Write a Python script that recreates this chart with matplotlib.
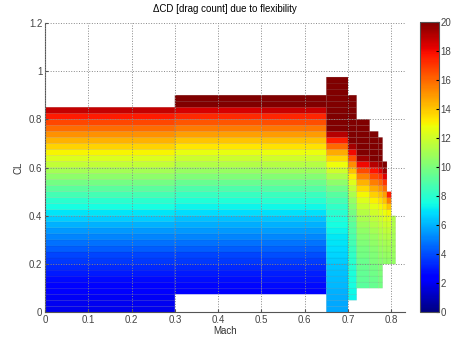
import numpy as np
import matplotlib
matplotlib.use('Agg')
import matplotlib.pyplot as plt

plt.rcParams['font.family'] = ['Liberation Sans', 'DejaVu Sans']

# Mach column edges and CL row step of the map
mach_edges = [0, 0.3, 0.5, 0.65, 0.7, 0.72, 0.75, 0.77, 0.78, 0.79, 0.80, 0.81]
cl_step = 0.025
n_rows = 39

# lowest CL of every Mach column
col_cl_min = [0, 0.075, 0.075, 0, 0.05, 0.1, 0.1, 0.1, 0.2, 0.2, 0.2]

# delta CD [drag count] per column, bottom row first
dcd_cols = [
    # 0 - 0.3
    [1.9, 2.0, 2.1, 2.3, 2.5, 2.7, 3.0, 3.3, 3.6, 3.9, 4.3, 4.7, 5.1, 5.5, 6.0, 6.5, 7.0,
     7.5, 8.0, 8.6, 9.2, 9.8, 10.4, 11.0, 11.7, 12.3, 13.0, 13.7, 14.4, 15.1, 15.9, 16.7,
     17.6, 18.8],
    # 0.3 - 0.5
    [2.4, 2.6, 2.8, 3.0, 3.3, 3.6, 3.9, 4.3, 4.7, 5.1, 5.5, 5.9, 6.3, 6.8, 7.3, 7.8, 8.3,
     8.9, 9.5, 10.1, 10.7, 11.3, 11.9, 12.6, 13.3, 14.0, 14.8, 15.6, 16.4, 17.3, 18.5,
     20, 20],
    # 0.5 - 0.65
    [2.5, 2.7, 2.9, 3.1, 3.4, 3.7, 4.0, 4.4, 4.8, 5.2, 5.6, 6.0, 6.4, 6.9, 7.4, 7.9, 8.4,
     9.0, 9.6, 10.2, 10.8, 11.4, 12.0, 12.7, 13.4, 14.1, 14.9, 15.7, 16.5, 17.4, 18.7,
     20, 20],
    # 0.65 - 0.7
    [5.8, 5.8, 5.9, 6.0, 6.1, 6.2, 6.3, 6.4, 6.5, 6.7, 6.8, 7.0, 7.1, 7.3, 7.5, 7.7, 7.9,
     8.2, 8.6, 9.1, 9.7, 10.4, 11.2, 12.0, 12.8, 13.6, 14.6, 16.0, 17.5, 19.0, 20, 20,
     20, 20, 20, 20, 20, 20, 20],
    # 0.7 - 0.72
    [7.3, 7.4, 7.5, 7.6, 7.7, 7.9, 8.0, 8.2, 8.4, 8.6, 8.8, 9.0, 9.2, 9.5, 9.8, 10.2, 10.6,
     11.1, 11.7, 12.4, 13.2, 14.1, 15.2, 16.5, 18.0, 19.3, 20, 20, 20, 20, 20, 20, 20, 20],
    # 0.72 - 0.75
    [9.2, 9.3, 9.4, 9.5, 9.6, 9.8, 9.9, 10.1, 10.3, 10.5, 10.8, 11.1, 11.4, 11.8, 12.3,
     12.9, 13.6, 14.4, 15.4, 16.6, 18.0, 19.4, 20, 20, 20, 20, 20, 20],
    # 0.75 - 0.77
    [9.5, 9.6, 9.7, 9.8, 10.0, 10.1, 10.3, 10.5, 10.7, 11.0, 11.3, 11.6, 12.0, 12.5, 13.1,
     13.8, 14.6, 15.5, 16.6, 17.8, 19.0, 20, 20, 20, 20, 20],
    # 0.77 - 0.78
    [9.8, 9.9, 10.0, 10.1, 10.3, 10.5, 10.7, 10.9, 11.1, 11.4, 11.7, 12.0, 12.4, 12.9,
     13.5, 14.2, 15.0, 16.0, 17.1, 18.3, 19.5, 20, 20, 20, 20],
    # 0.78 - 0.79
    [10.4, 10.6, 10.8, 11.0, 11.3, 11.6, 11.9, 12.3, 12.7, 13.3, 14.0, 14.8, 15.8, 17.0,
     18.3, 19.5, 20],
    # 0.79 - 0.80
    [10.5, 10.7, 10.9, 11.1, 11.4, 11.7, 12.0, 12.4, 13.0, 14.0, 15.5, 17.5],
    # 0.80 - 0.81
    [10.6, 10.7, 10.8, 10.9, 11.0, 11.1, 11.2, 11.3],
]

cl_edges = np.arange(n_rows + 1) * cl_step
Z = np.full((n_rows, len(dcd_cols)), np.nan)
for j, vals in enumerate(dcd_cols):
    k0 = int(round(col_cl_min[j] / cl_step))
    Z[k0:k0 + len(vals), j] = vals
Z = np.ma.masked_invalid(Z)

fig = plt.figure(figsize=(4.53, 3.43), dpi=100)
ax = fig.add_axes([0.0993, 0.0895, 0.795, 0.844])
# pcolor skips the masked cells, so only filled cells get an edge
mesh = ax.pcolor(mach_edges, cl_edges, Z, cmap='jet', vmin=0, vmax=20,
                 edgecolors=(0, 0, 0, 0.12), linewidth=0.3)

ax.set_xlim(0, 0.832)
ax.set_ylim(0, 1.2)
ax.set_xticks(np.arange(0, 0.81, 0.1))
ax.set_xticklabels(['0', '0.1', '0.2', '0.3', '0.4', '0.5', '0.6', '0.7', '0.8'])
ax.set_yticks(np.arange(0, 1.21, 0.2))
ax.set_yticklabels(['0', '0.2', '0.4', '0.6', '0.8', '1', '1.2'])
ax.grid(True, linestyle=':', color='#888888', linewidth=0.7)
ax.set_axisbelow(False)
for s in ['top', 'right']:
    ax.spines[s].set_visible(False)
for s in ['left', 'bottom']:
    ax.spines[s].set_color('#555555')
ax.tick_params(direction='in', length=2.5, labelsize=7, colors='#555555',
               labelcolor='#444444', pad=2)
ax.set_xlabel('Mach', fontsize=7, color='#333333', labelpad=1)
ax.set_ylabel('CL', fontsize=7, color='#333333', labelpad=4)
ax.set_title('\u0394CD [drag count] due to flexibility', fontsize=7, pad=8)

cax = fig.add_axes([0.927, 0.0895, 0.0426, 0.847])
cb = fig.colorbar(mesh, cax=cax, ticks=np.arange(0, 21, 2))
cb.ax.tick_params(labelsize=7, length=2, direction='in', labelcolor='#444444', pad=1)
cb.outline.set_edgecolor('#555555')

fig.savefig('out.png', dpi=100)
